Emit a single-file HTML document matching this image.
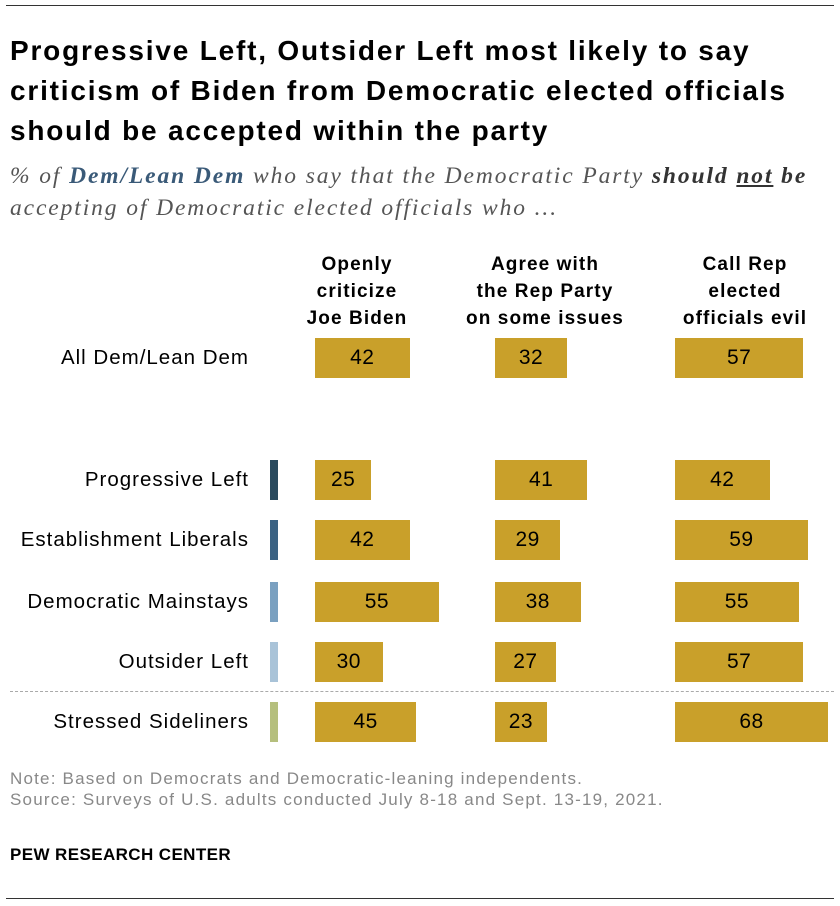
<!DOCTYPE html>
<html><head><meta charset="utf-8"><style>
body{margin:0;background:#fff;width:840px;height:906px;position:relative;font-family:"Liberation Sans",sans-serif;color:#000;overflow:hidden}
.abs{position:absolute}
.title{left:10px;top:31px;font-size:28px;font-weight:bold;line-height:40px;width:830px;letter-spacing:1.8px;white-space:nowrap}
.sub{left:10px;top:160px;font-family:"Liberation Serif",serif;font-style:italic;font-size:23.5px;line-height:32px;color:#555;width:840px;letter-spacing:1.9px;white-space:nowrap}
.sub b{color:#333}
.sub .dem{color:#3a5a78}
.hdr{font-size:19px;font-weight:bold;text-align:center;line-height:27px;width:220px;letter-spacing:1.1px}
.lbl{font-size:20.5px;text-align:right;width:249px;left:0;letter-spacing:1px;white-space:nowrap}
.note{left:10px;top:768px;font-size:17px;color:#888;line-height:21px;letter-spacing:1.2px;white-space:nowrap}
.pew{left:10px;top:845px;font-size:17px;font-weight:bold;letter-spacing:0.4px}
</style></head><body>
<div class="abs" style="left:6px;top:5px;width:828px;height:1px;background:#333"></div>
<div class="abs title">Progressive Left, Outsider Left most likely to say<br>criticism of Biden from Democratic elected officials<br>should be accepted within the party</div>
<div class="abs sub">% of <b class="dem">Dem/Lean Dem</b> who say that the Democratic Party <b>should <u>not</u> be</b><br>accepting of Democratic elected officials who ...</div>
<div class="abs hdr" style="left:247px;top:251px">Openly<br>criticize<br>Joe Biden</div>
<div class="abs hdr" style="left:435px;top:251px">Agree with<br>the Rep Party<br>on some issues</div>
<div class="abs hdr" style="left:635px;top:251px">Call Rep<br>elected<br>officials evil</div>
<div class="abs" style="left:10px;top:691px;width:824px;border-top:1.5px dashed #aaa"></div>
<div id="chart"></div>
<div class="abs note">Note: Based on Democrats and Democratic-leaning independents.<br>Source: Surveys of U.S. adults conducted July 8-18 and Sept. 13-19, 2021.</div>
<div class="abs pew">PEW RESEARCH CENTER</div>
<div class="abs" style="left:6px;top:898px;width:828px;height:1px;background:#333"></div>
<script>
const categories=["All Dem/Lean Dem","Progressive Left","Establishment Liberals","Democratic Mainstays","Outsider Left","Stressed Sideliners"];
const criticizeBiden=[42,25,42,55,30,45];
const agreeRep=[32,41,29,38,27,23];
const callEvil=[57,42,59,55,57,68];
const markerColors=[null,"#2a4a5e","#3b6283","#7aa0c0","#a9c3d8","#b5bf7d"];
const rowY=[358,480,540,602,662,722];
const colX=[315,495,675];
const scale=v=>v*2.25;
const c=document.getElementById('chart');
const series=[criticizeBiden,agreeRep,callEvil];
categories.forEach((cat,i)=>{
  const l=document.createElement('div');
  l.className='abs lbl';l.style.top=(rowY[i]-12)+'px';l.textContent=cat;
  
  
  c.appendChild(l);
  if(markerColors[i]){
    const m=document.createElement('div');
    m.className='abs';m.style.cssText=`left:270px;top:${rowY[i]-20}px;width:8px;height:40px;background:${markerColors[i]}`;
    
    
    c.appendChild(m);
  }
  series.forEach((s,j)=>{
    const b=document.createElement('div');
    b.className='abs';
    b.style.cssText=`left:${colX[j]}px;top:${rowY[i]-20}px;width:${scale(s[i])}px;height:40px;background:#c9a02a;font-size:21px;line-height:40px;text-align:center;letter-spacing:0.5px`;
    b.textContent=s[i];
    
    
    c.appendChild(b);
  });
});
</script>
</body></html>
